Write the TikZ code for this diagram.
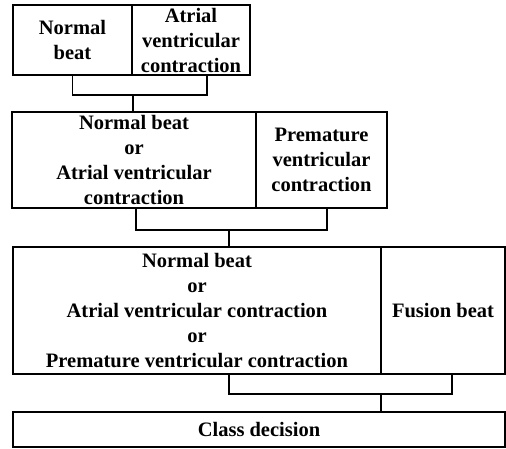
\documentclass[tikz,border=0pt]{standalone}
\usepackage{fontspec}
\setmainfont{Liberation Serif}
\usetikzlibrary{positioning,calc}

\begin{document}
\begin{tikzpicture}[x=1pt,y=-1pt,
    cell/.style={draw,line width=1.1pt,inner sep=0pt,outer sep=0pt,align=center,
      font=\fontsize{20.5}{25}\selectfont\bfseries},
    wire/.style={line width=1.1pt}]
    \useasboundingbox (0,0) rectangle (506,448);

    % stage 1
    \node[cell,anchor=north west,minimum width=119,minimum height=70] (nb1) at (13,5) {Normal\\beat};
    \node[cell,right=0pt of nb1,minimum width=118,minimum height=70] (avc1) {Atrial\\ventricular\\contraction};

    % stage 2
    \node[cell,anchor=north west,minimum width=244,minimum height=96] (nbavc2) at (12,112) {Normal beat\\or\\Atrial ventricular\\contraction};
    \node[cell,right=0pt of nbavc2,minimum width=131,minimum height=96] (pvc2) {Premature\\ventricular\\contraction};

    % stage 3
    \node[cell,anchor=north west,minimum width=368,minimum height=127] (all3) at (13,247) {Normal beat\\or\\Atrial ventricular contraction\\or\\Premature ventricular contraction};
    \node[cell,right=0pt of all3,minimum width=124,minimum height=127] (fb3) {Fusion beat};

    % decision
    \node[cell,anchor=north west,minimum width=492,minimum height=35] (dec) at (13,412) {Class decision};

    \coordinate (join1) at (133,95);
    \coordinate (join2) at (229,230);
    \coordinate (join3) at (381,394);

    \draw[wire] (nb1.south) |- (join1) -| ($(avc1.south)+(16,0)$);
    \draw[wire] (join1) -- (join1 |- nbavc2.north);
    \draw[wire] ($(nbavc2.south)+(2,0)$) |- (join2) -| ($(pvc2.south)+(5.5,0)$);
    \draw[wire] (join2) -- (join2 |- all3.north);
    \draw[wire] ($(all3.south)+(32,0)$) |- (join3) -| ($(fb3.south)+(9,0)$);
    \draw[wire] (join3) -- (join3 |- dec.north);
  \end{tikzpicture}
\end{document}
